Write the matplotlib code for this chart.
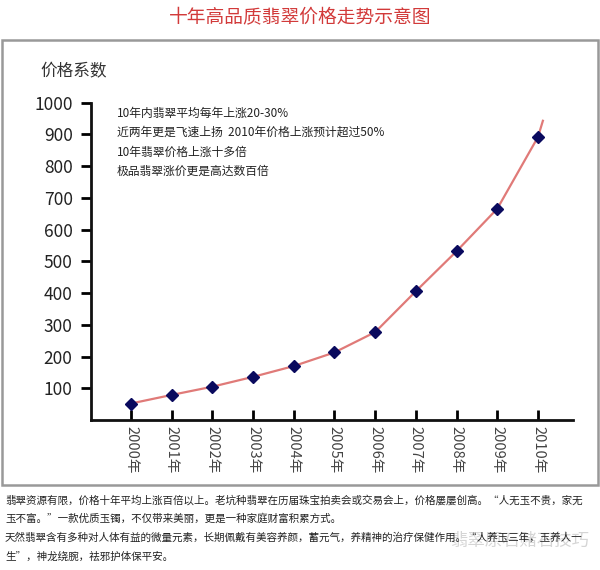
import matplotlib
matplotlib.use("Agg")
import matplotlib.pyplot as plt
from matplotlib.patches import Rectangle

plt.rcParams['font.family'] = ['Noto Sans CJK SC', 'DejaVu Sans']

# 数据
years = ["2000年", "2001年", "2002年", "2003年", "2004年", "2005年",
         "2006年", "2007年", "2008年", "2009年", "2010年"]
values = [52, 79, 105, 136, 170, 213, 277, 406, 532, 666, 892]
line_end = (10.12, 943)   # 趋势线末端略超出2010
yticks = [100, 200, 300, 400, 500, 600, 700, 800, 900, 1000]

title = "十年高品质翡翠价格走势示意图"
ylabel = "价格系数"
notes = ["10年内翡翠平均每年上涨20-30%",
         "近两年更是飞速上扬  2010年价格上涨预计超过50%",
         "10年翡翠价格上涨十多倍",
         "极品翡翠涨价更是高达数百倍"]
footer = ["翡翠资源有限，价格十年平均上涨百倍以上。老坑种翡翠在历届珠宝拍卖会或交易会上，价格屡屡创高。“人无玉不贵，家无",
          "玉不富。”一款优质玉镯，不仅带来美丽，更是一种家庭财富积累方式。",
          "天然翡翠含有多种对人体有益的微量元素，长期佩戴有美容养颜，蓄元气，养精神的治疗保健作用。“人养玉三年，玉养人一",
          "生”，神龙绕腕，祛邪护体保平安。"]
watermark = "翡翠原石赌石技巧"

fig = plt.figure(figsize=(6, 5.7), dpi=100)
W, H = 600, 570

# 外框
fig.patches.append(Rectangle((2 / W, 1 - 485 / H), 596 / W, 445 / H,
                             transform=fig.transFigure, fill=False,
                             edgecolor="#999999", linewidth=1.8))

fig.text(0.5, 1 - 18 / H, title, color="#d23a3a", fontsize=13.5,
         ha="center", va="center")

ax = fig.add_axes([90.7 / W, 1 - 420 / H, (573 - 90.7) / W, (420 - 102.7) / H])
x = list(range(len(years)))
ax.plot(x + [line_end[0]], values + [line_end[1]], color="#e07a78", lw=1.6, zorder=2)
ax.plot(x, values, linestyle="none", marker="D", markersize=6.5,
        color="#0a0a5e", zorder=3)

ax.set_xlim(-0.99, 10.86)
ax.set_ylim(0, 1000)
for s in ["top", "right"]:
    ax.spines[s].set_visible(False)
for s in ["left", "bottom"]:
    ax.spines[s].set_linewidth(2)
    ax.spines[s].set_color("#111111")

ax.set_yticks(yticks)
ax.set_yticklabels([str(v) for v in yticks])
ax.tick_params(axis="y", direction="out", length=7, width=2, labelsize=12.5,
               labelcolor="#222222", pad=6)
ax.set_xticks(x)
ax.set_xticklabels(years, rotation=-90)
ax.tick_params(axis="x", direction="in", length=7, width=2, labelsize=10.5,
               labelcolor="#444444", pad=4)

fig.text(40 / W, 1 - 72 / H, ylabel, fontsize=12, color="#333333", va="center")

for i, line in enumerate(notes):
    fig.text(117 / W, 1 - (113 + i * 19.5) / H, line, fontsize=8.5,
             color="#222222", va="center")

for i, line in enumerate(footer):
    fig.text(5 / W, 1 - (500 + i * 19) / H, line, fontsize=7.6,
             color="#222222", va="center")

# 水印（浅灰，压在正文上）
fig.text(450 / W, 1 - 541 / H, watermark, fontsize=12.5, color="#c4c4c4",
         alpha=0.7, va="center", zorder=0)

fig.savefig("out.png", dpi=100)
